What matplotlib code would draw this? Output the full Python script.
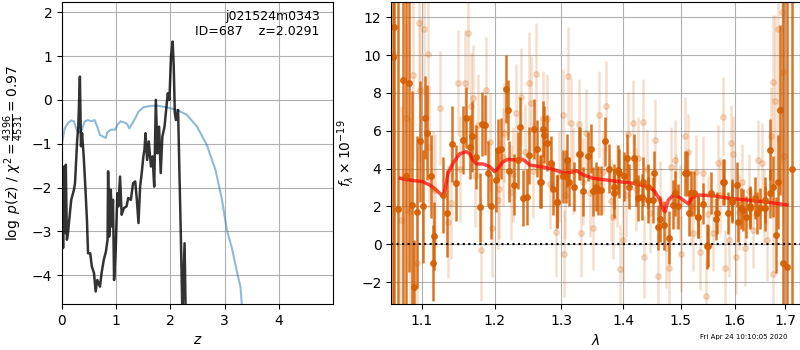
import matplotlib
matplotlib.use("Agg")
import matplotlib.pyplot as plt
import matplotlib.ticker as mticker
import numpy as np

# --- left panel: redshift probability
z_pz = [0.0, 0.02, 0.04, 0.06, 0.07, 0.09, 0.11, 0.13, 0.17, 0.22,
        0.24, 0.28, 0.30, 0.33, 0.35, 0.37, 0.40, 0.43, 0.46, 0.48,
        0.52, 0.55, 0.59, 0.62, 0.65, 0.70, 0.73, 0.77, 0.81, 0.84,
        0.85, 0.87, 0.90, 0.92, 0.94, 0.96, 0.99, 1.02, 1.04, 1.07,
        1.10, 1.14, 1.19, 1.22, 1.27, 1.31, 1.35, 1.38, 1.41, 1.44,
        1.47, 1.50, 1.52, 1.54, 1.57, 1.60, 1.64, 1.67, 1.70, 1.73,
        1.76, 1.79, 1.82, 1.85, 1.89, 1.92, 1.95, 1.98, 2.01, 2.04,
        2.06, 2.08, 2.10, 2.14, 2.16, 2.19, 2.22, 2.26, 2.28]
log_pz = [-1.67, -3.38, -1.52, -3.04, -1.48, -3.19, -3.04, -2.78, -2.28, -2.05,
          -1.90, -0.91, -0.61, 0.53, -1.06, -0.76, -1.29, -1.98, -2.74, -3.50,
          -3.50, -3.80, -3.95, -4.37, -4.11, -4.26, -3.95, -3.65, -3.46, -3.19,
          -1.63, -3.12, -2.05, -2.89, -2.28, -4.11, -3.42, -2.13, -2.43, -1.75,
          -2.62, -2.47, -2.43, -2.24, -2.28, -1.90, -1.86, -2.28, -2.81, -1.98,
          -1.67, -1.29, -1.14, -0.76, -1.37, -0.95, -1.52, -1.29, -1.98, 0.00,
          -1.22, -0.61, -1.67, -0.84, -0.61, -0.23, 0.15, 0.00, 0.99, 1.33,
          0.76, -0.30, -0.46, -0.23, -1.37, -3.04, -4.90, -3.27, -4.90]

z_chi = [0.0, 0.05, 0.11, 0.17, 0.22, 0.27, 0.31, 0.36, 0.42, 0.48,
         0.54, 0.60, 0.65, 0.70, 0.76, 0.81, 0.83, 0.90, 0.98, 1.02,
         1.08, 1.16, 1.20, 1.24, 1.28, 1.35, 1.41, 1.50, 1.62, 1.75,
         1.93, 2.12, 2.30, 2.49, 2.67, 2.83, 2.95, 3.04, 3.14, 3.23,
         3.29, 3.33]
chi_curve = [-0.99, -0.65, -0.53, -0.47, -0.49, -0.68, -0.75, -0.70, -0.49, -0.46,
             -0.49, -0.46, -0.61, -0.80, -0.84, -0.87, -0.75, -0.68, -0.68, -0.57,
             -0.49, -0.52, -0.55, -0.65, -0.57, -0.42, -0.27, -0.17, -0.14, -0.13,
             -0.17, -0.23, -0.34, -0.61, -1.03, -1.60, -2.28, -2.97, -3.42, -3.95,
             -4.26, -4.90]

# --- right panel: spectrum (wavelength in microns, flux in 1e-19)
dark_wave = [1.0625, 1.0645, 1.0687, 1.0752, 1.0787, 1.0830, 1.0874, 1.0891, 1.0934, 1.0970,
             1.1015, 1.1037, 1.1073, 1.1125, 1.1147, 1.1160, 1.1282, 1.1336, 1.1408, 1.1463,
             1.1554, 1.1591, 1.1646, 1.1684, 1.1740, 1.1800, 1.1824, 1.1871, 1.1903, 1.1951,
             1.2023, 1.2047, 1.2095, 1.2168, 1.2191, 1.2216, 1.2289, 1.2339, 1.2373, 1.2412,
             1.2471, 1.2511, 1.2586, 1.2620, 1.2671, 1.2736, 1.2786, 1.2838, 1.2874, 1.2930,
             1.3019, 1.3082, 1.3124, 1.3204, 1.3273, 1.3337, 1.3418, 1.3499, 1.3553, 1.3635,
             1.3706, 1.3771, 1.3854, 1.3937, 1.4021, 1.4105, 1.4190, 1.4246, 1.4331, 1.4417,
             1.4504, 1.4591, 1.4696, 1.4785, 1.4856, 1.4945, 1.5083, 1.5156, 1.5247, 1.5308,
             1.5400, 1.5474, 1.5555, 1.5649, 1.5775, 1.5870, 1.5954, 1.6044, 1.6128, 1.6225,
             1.6304, 1.6388, 1.6487, 1.6586, 1.6686, 1.6753, 1.6820, 1.6854, 1.6902, 1.6955,
             1.7036, 1.7143,
             1.2719, 1.2680, 1.2935, 1.3073, 1.3292, 1.3477, 1.3587, 1.3845, 1.3918, 1.4058,
             1.4216, 1.4312, 1.4428, 1.4526, 1.4631, 1.4898, 1.5108, 1.5187, 1.5318, 1.5490,
             1.5661, 1.5802, 1.5946, 1.6060, 1.6170, 1.6302, 1.6431, 1.6588, 1.6698]
dark_flux = [9.9, 11.5, 1.85, 8.7, 3.6, 8.55, 2.1, -2.25, 1.7, 5.45,
             2.0, 6.7, 5.9, 3.6, -1.0, 0.45, 2.6, 1.65, 5.3, 3.25,
             5.5, 6.7, 5.15, 5.7, 4.6, 1.95, 6.35, 6.3, 3.75, 2.0,
             3.4, 5.0, 5.05, 8.2, 7.1, 3.85, 3.15, 4.45, 6.2, 2.45,
             2.5, 4.7, 6.1, 5.05, 3.3, 5.8, 5.35, 4.3, 2.95, 2.25,
             3.6, 4.45, 3.3, 3.05, 4.8, 2.8, 4.65, 2.8, 3.05, 2.85,
             5.45, 4.0, 3.05, 3.75, 3.6, 3.05, 4.55, 2.45, 3.3, 3.05,
             2.35, 0.9, 1.0, 0.35, 2.1, 2.0, 3.75, 1.65, 2.7, 1.45,
             2.15, -0.1, 2.7, 1.35, 3.3, 1.65, 2.25, 3.15, 1.9, 1.45,
             2.0, 2.45, 1.9, 2.35, 2.7, 3.05, 0.5, 3.3, 7.1, -1.0,
             -1.2, 4.0,
             6.1, 3.3, 2.25, 3.6, 4.8, 5.05, 2.85, 2.7, 3.95, 4.55,
             3.3, 2.5, 2.35, 3.75, 1.35, 2.7, 3.75, 2.7, 1.45, -0.1,
             1.65, 3.3, 2.35, 1.2, 1.8, 1.9, 1.65, 1.9, 5.0]
dark_err = [18, 16, 14, 12, 11, 10, 6, 2.5, 4, 3.2,
            3.0, 2.2, 2.5, 2.2, 2.0, 1.8, 2.0, 2.3, 2.0, 2.0,
            1.8, 1.6, 1.7, 1.9, 1.7, 1.8, 1.7, 1.6, 1.7, 1.7,
            1.7, 1.6, 1.6, 1.8, 1.6, 1.6, 1.6, 1.5, 1.6, 1.5,
            1.5, 1.5, 1.6, 1.5, 1.4, 1.5, 1.5, 1.4, 1.4, 1.4,
            1.4, 1.4, 1.3, 1.3, 1.4, 1.3, 1.3, 1.3, 1.3, 1.3,
            1.3, 1.3, 1.2, 1.3, 1.3, 1.2, 1.3, 1.2, 1.3, 1.2,
            1.2, 1.2, 1.3, 1.4, 1.3, 1.2, 1.2, 1.2, 1.2, 1.1,
            1.1, 1.2, 1.1, 1.1, 1.2, 1.1, 1.1, 1.2, 1.1, 1.1,
            1.1, 1.1, 1.1, 1.2, 1.3, 1.6, 2.0, 2.5, 4.5, 15,
            16, 18,
            1.5, 1.4, 1.4, 1.4, 1.4, 1.3, 1.3, 1.3, 1.3, 1.3,
            1.3, 1.2, 1.2, 1.2, 1.2, 1.2, 1.2, 1.2, 1.1, 1.1,
            1.1, 1.2, 1.1, 1.1, 1.1, 1.1, 1.1, 1.2, 1.6]

light_wave = [1.0645, 1.0722, 1.0787, 1.0839, 1.0882, 1.0934, 1.0960, 1.0978, 1.1028, 1.1086,
              1.1099, 1.1180, 1.1235, 1.1349, 1.1485, 1.1578, 1.1624, 1.1670, 1.1693, 1.1764,
              1.1810, 1.1883, 1.1968, 1.2047, 1.2071, 1.2144, 1.2241, 1.2313, 1.2389, 1.2511,
              1.2537, 1.2612, 1.2711, 1.2786, 1.2914, 1.3019, 1.3035, 1.3097, 1.3150, 1.3284,
              1.3310, 1.3393, 1.3510, 1.3597, 1.3718, 1.3829, 1.3948, 1.3995, 1.4079, 1.4165,
              1.4248, 1.4334, 1.4351, 1.4451, 1.4536, 1.4595, 1.4739, 1.4785, 1.4830, 1.4889,
              1.4918, 1.5009, 1.5069, 1.5129, 1.5220, 1.5281, 1.5355, 1.5404, 1.5465, 1.5588,
              1.5683, 1.5777, 1.5808, 1.5902, 1.5935, 1.5967, 1.6033, 1.6148, 1.6194, 1.6358,
              1.6457, 1.6525, 1.6626, 1.6707, 1.6747, 1.6760, 1.6794, 1.6862, 1.6930, 1.6951,
              1.6978,
              1.1150, 1.1390, 1.1520, 1.1720, 1.1930, 1.2120, 1.2270, 1.2450, 1.2560, 1.2680,
              1.2820, 1.2960, 1.3060, 1.3180, 1.3350, 1.3460, 1.3660, 1.3800, 1.3890, 1.4050,
              1.4210, 1.4400, 1.4640, 1.4980, 1.5180, 1.5500, 1.5730, 1.6080, 1.6270, 1.6580]
light_flux = [10.0, 1.3, 6.65, 1.75, 8.95, -1.0, 11.7, 8.15, 11.4, 10.05,
              5.15, 2.85, 7.2, 1.2, 8.5, 8.55, 11.15, 7.3, 7.75, 6.3,
              -0.3, 8.15, 0.85, 2.35, 2.9, 5.9, 2.75, 6.95, 7.8, 8.5,
              7.45, 9.0, 6.65, 6.6, 0.65, 6.85, -0.5, 8.9, 6.4, 6.35,
              0.6, 5.9, 0.85, 6.85, 7.3, 1.45, -1.3, 0.25, 5.85, 6.4,
              4.55, 6.45, -0.65, 1.65, 5.5, -1.65, -0.2, -1.25, 4.1, 4.45,
              2.8, -0.5, 5.7, 4.9, 0.6, 3.8, -0.4, 3.75, -2.75, 0.6,
              4.3, 6.75, -1.25, 0.25, 5.35, 4.8, -0.65, 3.3, -0.2, 0.75,
              4.45, 4.3, 0.25, 5.7, 8.6, -1.55, 7.6, 11.4, 12.3, 9.1,
              4.65,
              3.0, 2.2, 4.0, 3.6, 5.4, 4.6, 3.7, 4.9, 3.9, 4.3,
              3.2, 3.6, 2.6, 3.9, 3.3, 2.7, 3.8, 2.3, 3.1, 2.6,
              2.9, 4.0, 2.3, 2.2, 2.0, 1.6, 2.6, 1.7, 2.8, 2.0]
light_err = [12, 6, 5, 5, 4.5, 4, 4, 3.8, 3.5, 3.5,
             3.2, 3.0, 3.0, 3.0, 2.8, 2.8, 3.0, 2.8, 2.8, 2.7,
             2.7, 2.8, 2.6, 2.6, 2.6, 2.6, 2.5, 2.6, 2.6, 2.7,
             2.5, 2.7, 2.5, 2.4, 2.4, 2.4, 2.3, 2.6, 2.4, 2.4,
             2.3, 2.3, 2.2, 2.3, 2.4, 2.2, 2.3, 2.2, 2.2, 2.3,
             2.2, 2.3, 2.2, 2.1, 2.2, 2.2, 2.1, 2.1, 2.1, 2.1,
             2.0, 2.0, 2.1, 2.0, 2.0, 2.0, 2.0, 2.0, 2.0, 2.0,
             2.0, 2.1, 2.0, 2.0, 2.0, 2.0, 2.0, 2.0, 2.0, 2.0,
             2.1, 2.1, 2.2, 2.6, 3.5, 4, 4.5, 6, 8, 8,
             9,
             3, 3, 2.8, 2.7, 2.6, 2.6, 2.5, 2.5, 2.5, 2.4,
             2.4, 2.4, 2.3, 2.3, 2.3, 2.3, 2.2, 2.2, 2.2, 2.2,
             2.2, 2.1, 2.1, 2.0, 2.0, 2.0, 2.0, 2.0, 2.0, 2.0]

model_wave = [1.0722, 1.0839, 1.1013, 1.1102, 1.1191, 1.1272, 1.1304, 1.1349, 1.1417, 1.1509,
              1.1601, 1.1648, 1.1695, 1.1742, 1.1836, 1.1931, 1.2003, 1.2051, 1.2123, 1.2196,
              1.2294, 1.2393, 1.2443, 1.2518, 1.2669, 1.2822, 1.2977, 1.3081, 1.3186, 1.3239,
              1.3345, 1.3506, 1.3724, 1.3945, 1.4170, 1.4399, 1.4457, 1.4544, 1.4632, 1.4690,
              1.4720, 1.4779, 1.4868, 1.4957, 1.5047, 1.5138, 1.5198, 1.5290, 1.5598, 1.5913,
              1.6235, 1.6563, 1.7033]
model_flux = [3.49, 3.40, 3.31, 3.14, 2.87, 2.57, 2.78, 3.75, 4.28, 4.78,
              4.90, 4.78, 4.46, 4.25, 4.25, 4.11, 3.84, 4.02, 4.37, 4.49,
              4.46, 4.51, 4.42, 4.19, 4.11, 4.02, 3.84, 3.75, 3.84, 3.89,
              3.67, 3.49, 3.40, 3.31, 3.22, 3.08, 3.01, 2.78, 2.34, 1.81,
              1.73, 2.34, 2.61, 2.52, 2.34, 2.13, 2.43, 2.61, 2.57, 2.43,
              2.34, 2.26, 2.08]

obj_name = "j021524m0343"
obj_id = 687
z_best = 2.0291
chi2, dof = 4396, 4531
stamp = "Fri Apr 24 10:10:05 2020"

grism_color = "#d55e00"

fig = plt.figure(figsize=(8, 3.5), dpi=100)

# left: log p(z)
ax = fig.add_axes([0.0775, 0.131, 0.339, 0.863])
ax.plot(z_chi, chi_curve, color="tab:blue", alpha=0.5, lw=1.5)
ax.plot(z_pz, log_pz, color="k", alpha=0.8, lw=1.8)
ax.set_xlim(0, 5)
ax.set_ylim(-4.66, 2.23)
ax.set_xticks([0, 1, 2, 3, 4])
ax.set_yticks([-4, -3, -2, -1, 0, 1, 2])
ax.grid()
ax.set_xlabel(r"$z$")
ax.set_ylabel(r"$\log\ p(z)$" + " / " +
              r"$\chi^2=\frac{%d}{%d}=%.2f$" % (chi2, dof, chi2 / dof))
ax.text(0.95, 0.975, "%s\nID=%d    z=%.4f" % (obj_name, obj_id, z_best),
        transform=ax.transAxes, ha="right", va="top", fontsize=9)

# right: spectrum
ax2 = fig.add_axes([0.489, 0.131, 0.5104, 0.863])
ax2.errorbar(light_wave, light_flux, yerr=light_err, color=grism_color,
             alpha=0.2, marker="o", ms=4, linestyle="None", elinewidth=1.8)
ax2.errorbar(dark_wave, dark_flux, yerr=dark_err, color=grism_color,
             alpha=0.85, marker="o", ms=4, linestyle="None", elinewidth=1.8)
ax2.plot(model_wave, model_flux, color="r", alpha=0.7, lw=2.5)
ax2.axhline(0, color="k", linestyle=":", lw=1.5)
ax2.set_xscale("log")
ax2.set_xlim(1.0603, 1.7294)
ax2.set_ylim(-3.16, 12.8)
ax2.set_xticks([1.1, 1.2, 1.3, 1.4, 1.5, 1.6, 1.7])
ax2.xaxis.set_major_formatter(mticker.FormatStrFormatter("%.1f"))
ax2.xaxis.set_minor_locator(mticker.NullLocator())
ax2.set_yticks([-2, 0, 2, 4, 6, 8, 10, 12])
ax2.grid()
ax2.set_xlabel(r"$\lambda$")
ax2.set_ylabel(r"$f_\lambda\times10^{-19}$")

fig.text(0.984, 0.028, stamp, ha="right", va="bottom", fontsize=5)

fig.savefig("out.png", dpi=100)
